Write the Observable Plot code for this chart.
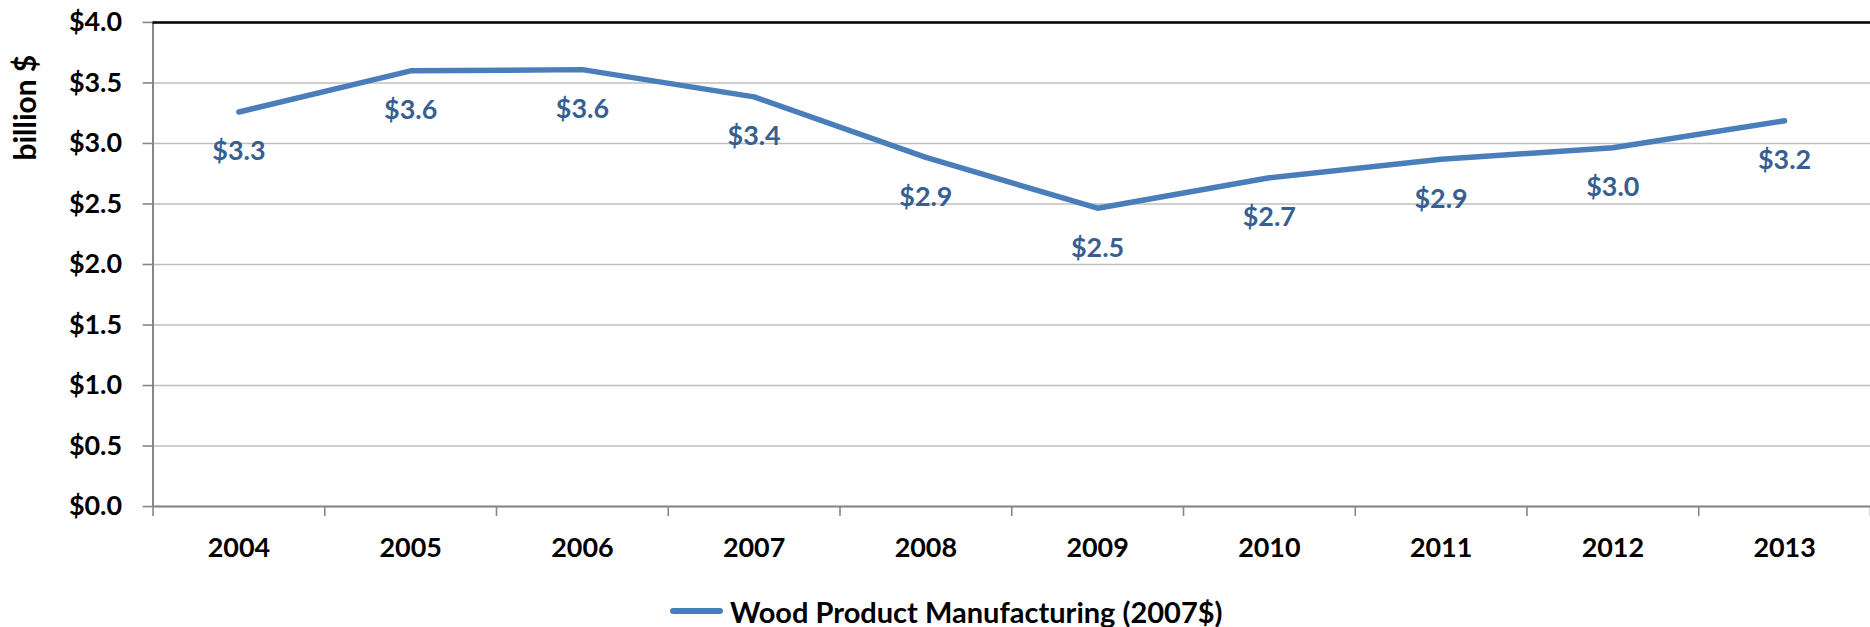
<!DOCTYPE html>
<html>
<head>
<meta charset="utf-8">
<script src="https://cdn.jsdelivr.net/npm/d3@7"></script>
<script src="https://cdn.jsdelivr.net/npm/@observablehq/plot@0.6"></script>
<style>
  html, body { margin: 0; padding: 0; background: #fff; overflow: hidden; width: 1870px; height: 627px; }
  #chart { position: relative; width: 1870px; height: 627px; }
  #legend { position: absolute; left: 670px; top: 592px; height: 38px; display: flex; align-items: center;
            font-family: Lato, "Open Sans", sans-serif; font-weight: bold; font-size: 29px; color: #000; white-space: nowrap; }
  #legend .sw { width: 53px; height: 6px; background: #4A7EBB; border-radius: 3px; margin-right: 7px; }
</style>
</head>
<body>
<div id="chart"></div>
<script>
// Data
const years = [2004, 2005, 2006, 2007, 2008, 2009, 2010, 2011, 2012, 2013];
const values = [3.26, 3.60, 3.61, 3.385, 2.885, 2.465, 2.717, 2.869, 2.965, 3.187];
const yTicks = [0, 0.5, 1, 1.5, 2, 2.5, 3, 3.5, 4];
const seriesName = "Wood Product Manufacturing (2007$)";
const yTitle = "billion $";

const data = years.map((year, i) => ({year, value: values[i]}));
const edges = years.concat([years[years.length - 1] + 1]).map(y => y - 0.5);

const font = "Lato, 'Open Sans', sans-serif";
const lineColor = "#4A7EBB";
const labelColor = "#376092";
const axisColor = "#868686";

const plot = Plot.plot({
  width: 1876,
  height: 580,
  marginTop: 22,
  marginBottom: 72.3,
  marginLeft: 153,
  marginRight: 0,
  style: {fontFamily: font, fontWeight: "bold", fontSize: "27px", color: "#000", background: "#fff"},
  x: {type: "linear", domain: [edges[0], edges[edges.length - 1]]},
  y: {domain: [0, 4]},
  marks: [
    Plot.gridY(yTicks, {stroke: "#BFBFBF", strokeOpacity: 1, strokeWidth: 1.6}),
    Plot.axisY(yTicks, {
      tickSize: 10, tickPadding: 21, stroke: axisColor, strokeWidth: 1.6,
      tickFormat: d => "$" + d.toFixed(1), label: null, fontSize: 27
    }),
    Plot.axisX(edges, {tickSize: 10, tickFormat: () => "", stroke: axisColor, strokeWidth: 1.6, label: null}),
    Plot.axisX(years, {tickSize: 0, tickPadding: 31, tickFormat: d => String(d), label: null, fontSize: 27}),
    Plot.ruleY([0], {stroke: axisColor, strokeWidth: 2}),
    Plot.ruleX([edges[0]], {stroke: axisColor, strokeWidth: 2}),
    Plot.ruleY([4], {stroke: "#000", strokeWidth: 2.5}),
    Plot.line(data, {x: "year", y: "value", stroke: lineColor, strokeWidth: 5.5, strokeLinecap: "round", strokeLinejoin: "round"}),
    Plot.text(data, {
      x: "year", y: "value", text: d => "$" + d.value.toFixed(1),
      dy: 40, fill: labelColor, fontSize: 27, fontWeight: "bold", fontFamily: font
    })
  ]
});

const chart = document.getElementById("chart");
chart.appendChild(plot);

// y-axis title
d3.select(plot).append("text")
  .attr("transform", "translate(28,108) rotate(-90)")
  .attr("text-anchor", "middle")
  .attr("dominant-baseline", "middle")
  .style("font-family", font)
  .style("font-weight", "bold")
  .style("font-size", "30px")
  .attr("fill", "#000")
  .text(yTitle);

// legend
const legend = document.createElement("div");
legend.id = "legend";
legend.innerHTML = '<span class="sw"></span><span></span>';
legend.lastChild.textContent = seriesName;
chart.appendChild(legend);
</script>
</body>
</html>
